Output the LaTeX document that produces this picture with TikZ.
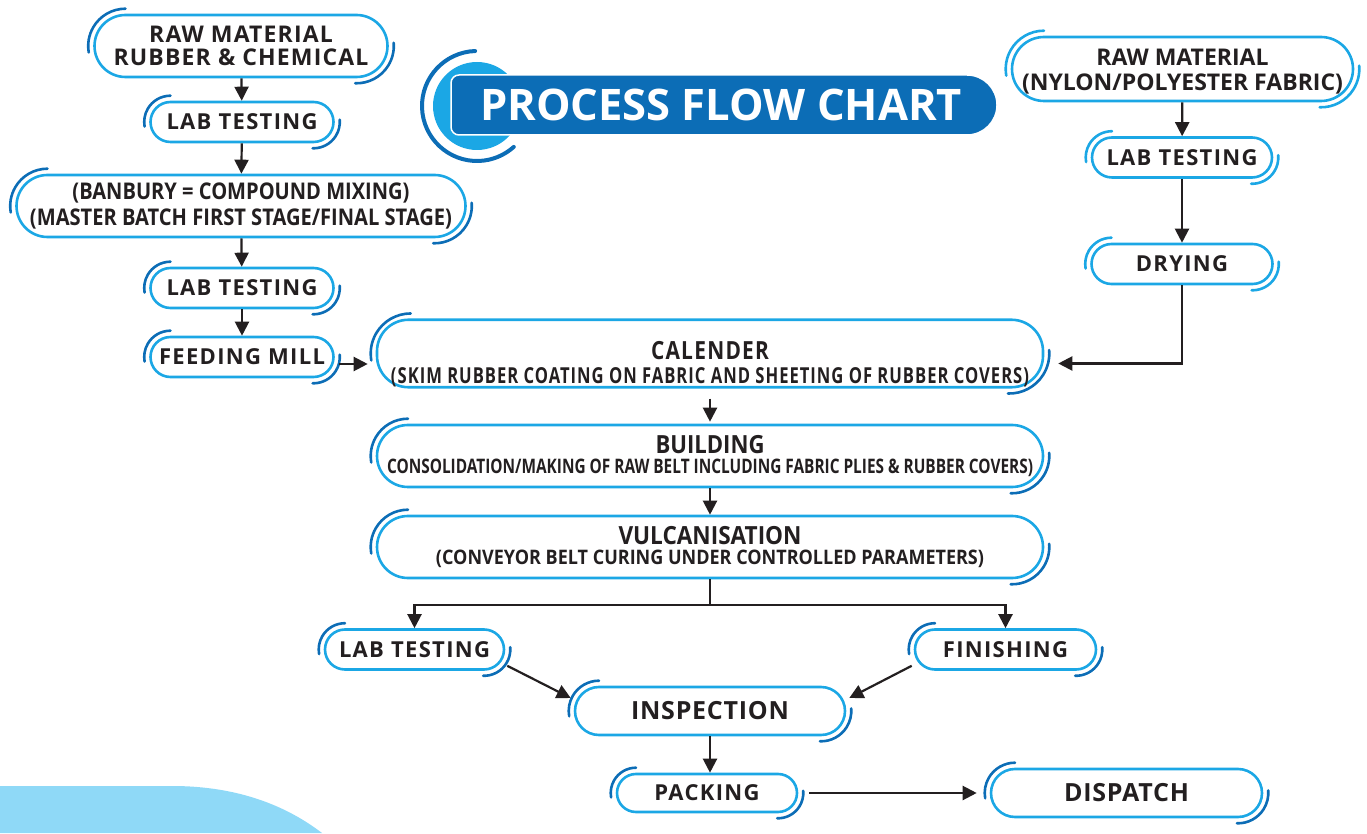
\documentclass[tikz,border=0pt]{standalone}
\usepackage{fontspec}
\setmainfont{Open Sans}
\newfontfamily\stagefont[LetterSpace=6]{Open Sans}
\newfontfamily\rawfont[LetterSpace=5]{Open Sans}
\newfontfamily\widefont[LetterSpace=3]{Open Sans}
\usepackage{graphicx}
\usetikzlibrary{arrows.meta, calc}

\definecolor{flowcyan}{HTML}{1BA7E5}
\definecolor{flowblue}{HTML}{0C6DB6}
\definecolor{flowink}{HTML}{231F20}
\definecolor{flowsky}{HTML}{8FD9F7}

% squeeze a line of text to a given width
\newcommand\squeeze[2]{\resizebox{#1}{\height}{#2}}
% the two small arcs round a stage
\newcommand\accents[2]{%
  \draw[#2, line width=2.6pt, line cap=round]
    let \p1=(#1.west), \p2=(#1.east), \p3=(#1.north), \p4=(#1.south),
        \n1={(\y3-\y4)/2}, \n2={(\y3-\y4)/2+5pt} in
    ($(\x1+\n1,\y1)+(90:\n2)$) arc[start angle=90, end angle=190, radius=\n2]
    ($(\x2-\n1,\y2)+(-92:\n2)$) arc[start angle=-92, end angle=5, radius=\n2];
}

\tikzset{
  stage/.style={rectangle, rounded corners=#1, minimum height={2*#1}, inner sep=0pt,
    draw=flowcyan, line width=2.6pt, fill=white, text=flowink, align=center,
    font=\stagefont\bfseries\fontsize{22}{24}\selectfont},
  stage/.default=20pt,
  bigstage/.style={stage=24pt, font=\widefont\bfseries\fontsize{25}{25}\selectfont},
  longstage/.style={stage=31pt, minimum width=666pt, font=\bfseries\fontsize{20}{20}\selectfont},
  link/.style={draw=flowink, line width=2.2pt},
  flow/.style={link, -{Triangle[length=14pt, width=14pt]}},
}

\begin{document}
\begin{tikzpicture}[x=1pt, y=1pt]
    \useasboundingbox (0,0) rectangle (1367,833);
    \fill[flowsky] (0,0) -- (0,47) -- (172,47) .. controls (240,47) and (288,26) .. (322,0) -- cycle;

    % title
    \fill[flowcyan] (477,727) circle[radius=44];
    \draw[flowblue, line width=4pt, line cap=round] (477,727) ++(92:55) arc[start angle=92, end angle=312, radius=55];
    \filldraw[fill=flowblue, draw=white, line width=1.5pt] (459,758) -- (967,758) arc[start angle=90, end angle=-90, radius=30]
        -- (459,698) arc[start angle=270, end angle=180, radius=8] -- (451,750) arc[start angle=180, end angle=90, radius=8] -- cycle;
    \node[font=\bfseries\fontsize{43.5}{43.5}\selectfont, text=white] (title) at (721,728) {PROCESS FLOW CHART};

    % rubber side
    \node[stage=31pt, minimum width=293pt, font=\rawfont\bfseries\fontsize{23}{23.5}\selectfont] (rawrub) at (241,787) {RAW MATERIAL\\RUBBER \& CHEMICAL};
    \node[stage, minimum width=183pt] (labA) at (242,711) {LAB TESTING};
    \node[stage=31pt, minimum width=449pt, font=\bfseries\fontsize{23}{26}\selectfont] (banbury) at (241,627)
        {\squeeze{337pt}{(BANBURY = COMPOUND MIXING)}\\\squeeze{422pt}{(MASTER BATCH FIRST STAGE/FINAL STAGE)}};
    \node[stage, minimum width=183pt] (labB) at (242,545) {LAB TESTING};
    \node[stage, minimum width=183pt] (feed) at (242,476) {FEEDING MILL};

    % fabric side
    \node[stage=32pt, minimum width=341pt, font=\bfseries\fontsize{23}{24.5}\selectfont] (rawnyl) at (1182.5,764)
        {\rule{0pt}{22pt}RAW MATERIAL\\(NYLON/POLYESTER FABRIC)};
    \node[stage, minimum width=180pt] (labR) at (1182,675.5) {LAB TESTING};
    \node[stage, minimum width=181pt] (drying) at (1182,569) {DRYING};

    % main line
    \node[longstage, stage=31.5pt] (calender) at (710,479.5)
        {\rule{0pt}{40pt}\squeeze{118pt}{\fontsize{25}{20}\selectfont CALENDER}\\\squeeze{638pt}{(SKIM RUBBER COATING ON FABRIC AND SHEETING OF RUBBER COVERS)}};
    \node[longstage] (building) at (710,377)
        {\squeeze{109pt}{\fontsize{25}{20}\selectfont BUILDING}\\\squeeze{646pt}{CONSOLIDATION/MAKING OF RAW BELT INCLUDING FABRIC PLIES \& RUBBER COVERS)}};
    \node[longstage] (vulcan) at (710,286)
        {\squeeze{183pt}{\fontsize{25}{20}\selectfont VULCANISATION}\\\squeeze{548pt}{(CONVEYOR BELT CURING UNDER CONTROLLED PARAMETERS)}};
    \node[stage, minimum width=179pt] (labC) at (414.5,183.5) {LAB TESTING};
    \node[stage, minimum width=181pt] (finish) at (1005.5,183.5) {FINISHING};
    \node[bigstage, minimum width=270pt] (inspect) at (710,122) {INSPECTION};
    \node[stage=19pt, minimum width=180pt] (pack) at (707,40) {PACKING};
    \node[bigstage, minimum width=271pt] (dispatch) at (1126.5,40) {DISPATCH};

    \foreach \s in {rawrub,labA,banbury,labB,feed,calender,building,vulcan,labC,finish,inspect,pack,dispatch}
        {\accents{\s}{flowblue}}
    \foreach \s in {rawnyl,labR,drying}
        {\accents{\s}{flowcyan}}

    % connectors
    \draw[flow] (rawrub) -- (labA);
    \draw[flow] (labA) -- (banbury);
    \draw[flow] (banbury) -- (labB);
    \draw[flow] (labB) -- (feed);
    \draw[flow, shorten <=4pt, shorten >=8pt] ([yshift=-7pt]feed.east) -- ([yshift=-7pt]feed.east -| calender.west);
    \draw[flow] (rawnyl) -- (labR);
    \draw[flow] (labR) -- (drying);
    \draw[flow] (drying) |- ($(calender.east)+(14,-10)$);
    \draw[flow, shorten <=10pt, shorten >=2pt] (calender) -- (building);
    \draw[flow] (building) -- (vulcan);
    \draw[link] (vulcan.south) -- ++(0,-26) coordinate (split);
    \draw[flow] (split) -| (labC);
    \draw[flow] (split) -| (finish);
    \draw[flow] ([shift={(2,5)}]labC.south east) -- ($(inspect.west)+(-3,13)$);
    \draw[flow] ([shift={(-2,5)}]finish.south west) -- ($(inspect.east)+(3,13)$);
    \draw[flow] (inspect.south) -- (inspect.south |- pack.north);
    \draw[flow, shorten <=11pt, shorten >=13pt] (pack) -- (dispatch);
\end{tikzpicture}
\end{document}
